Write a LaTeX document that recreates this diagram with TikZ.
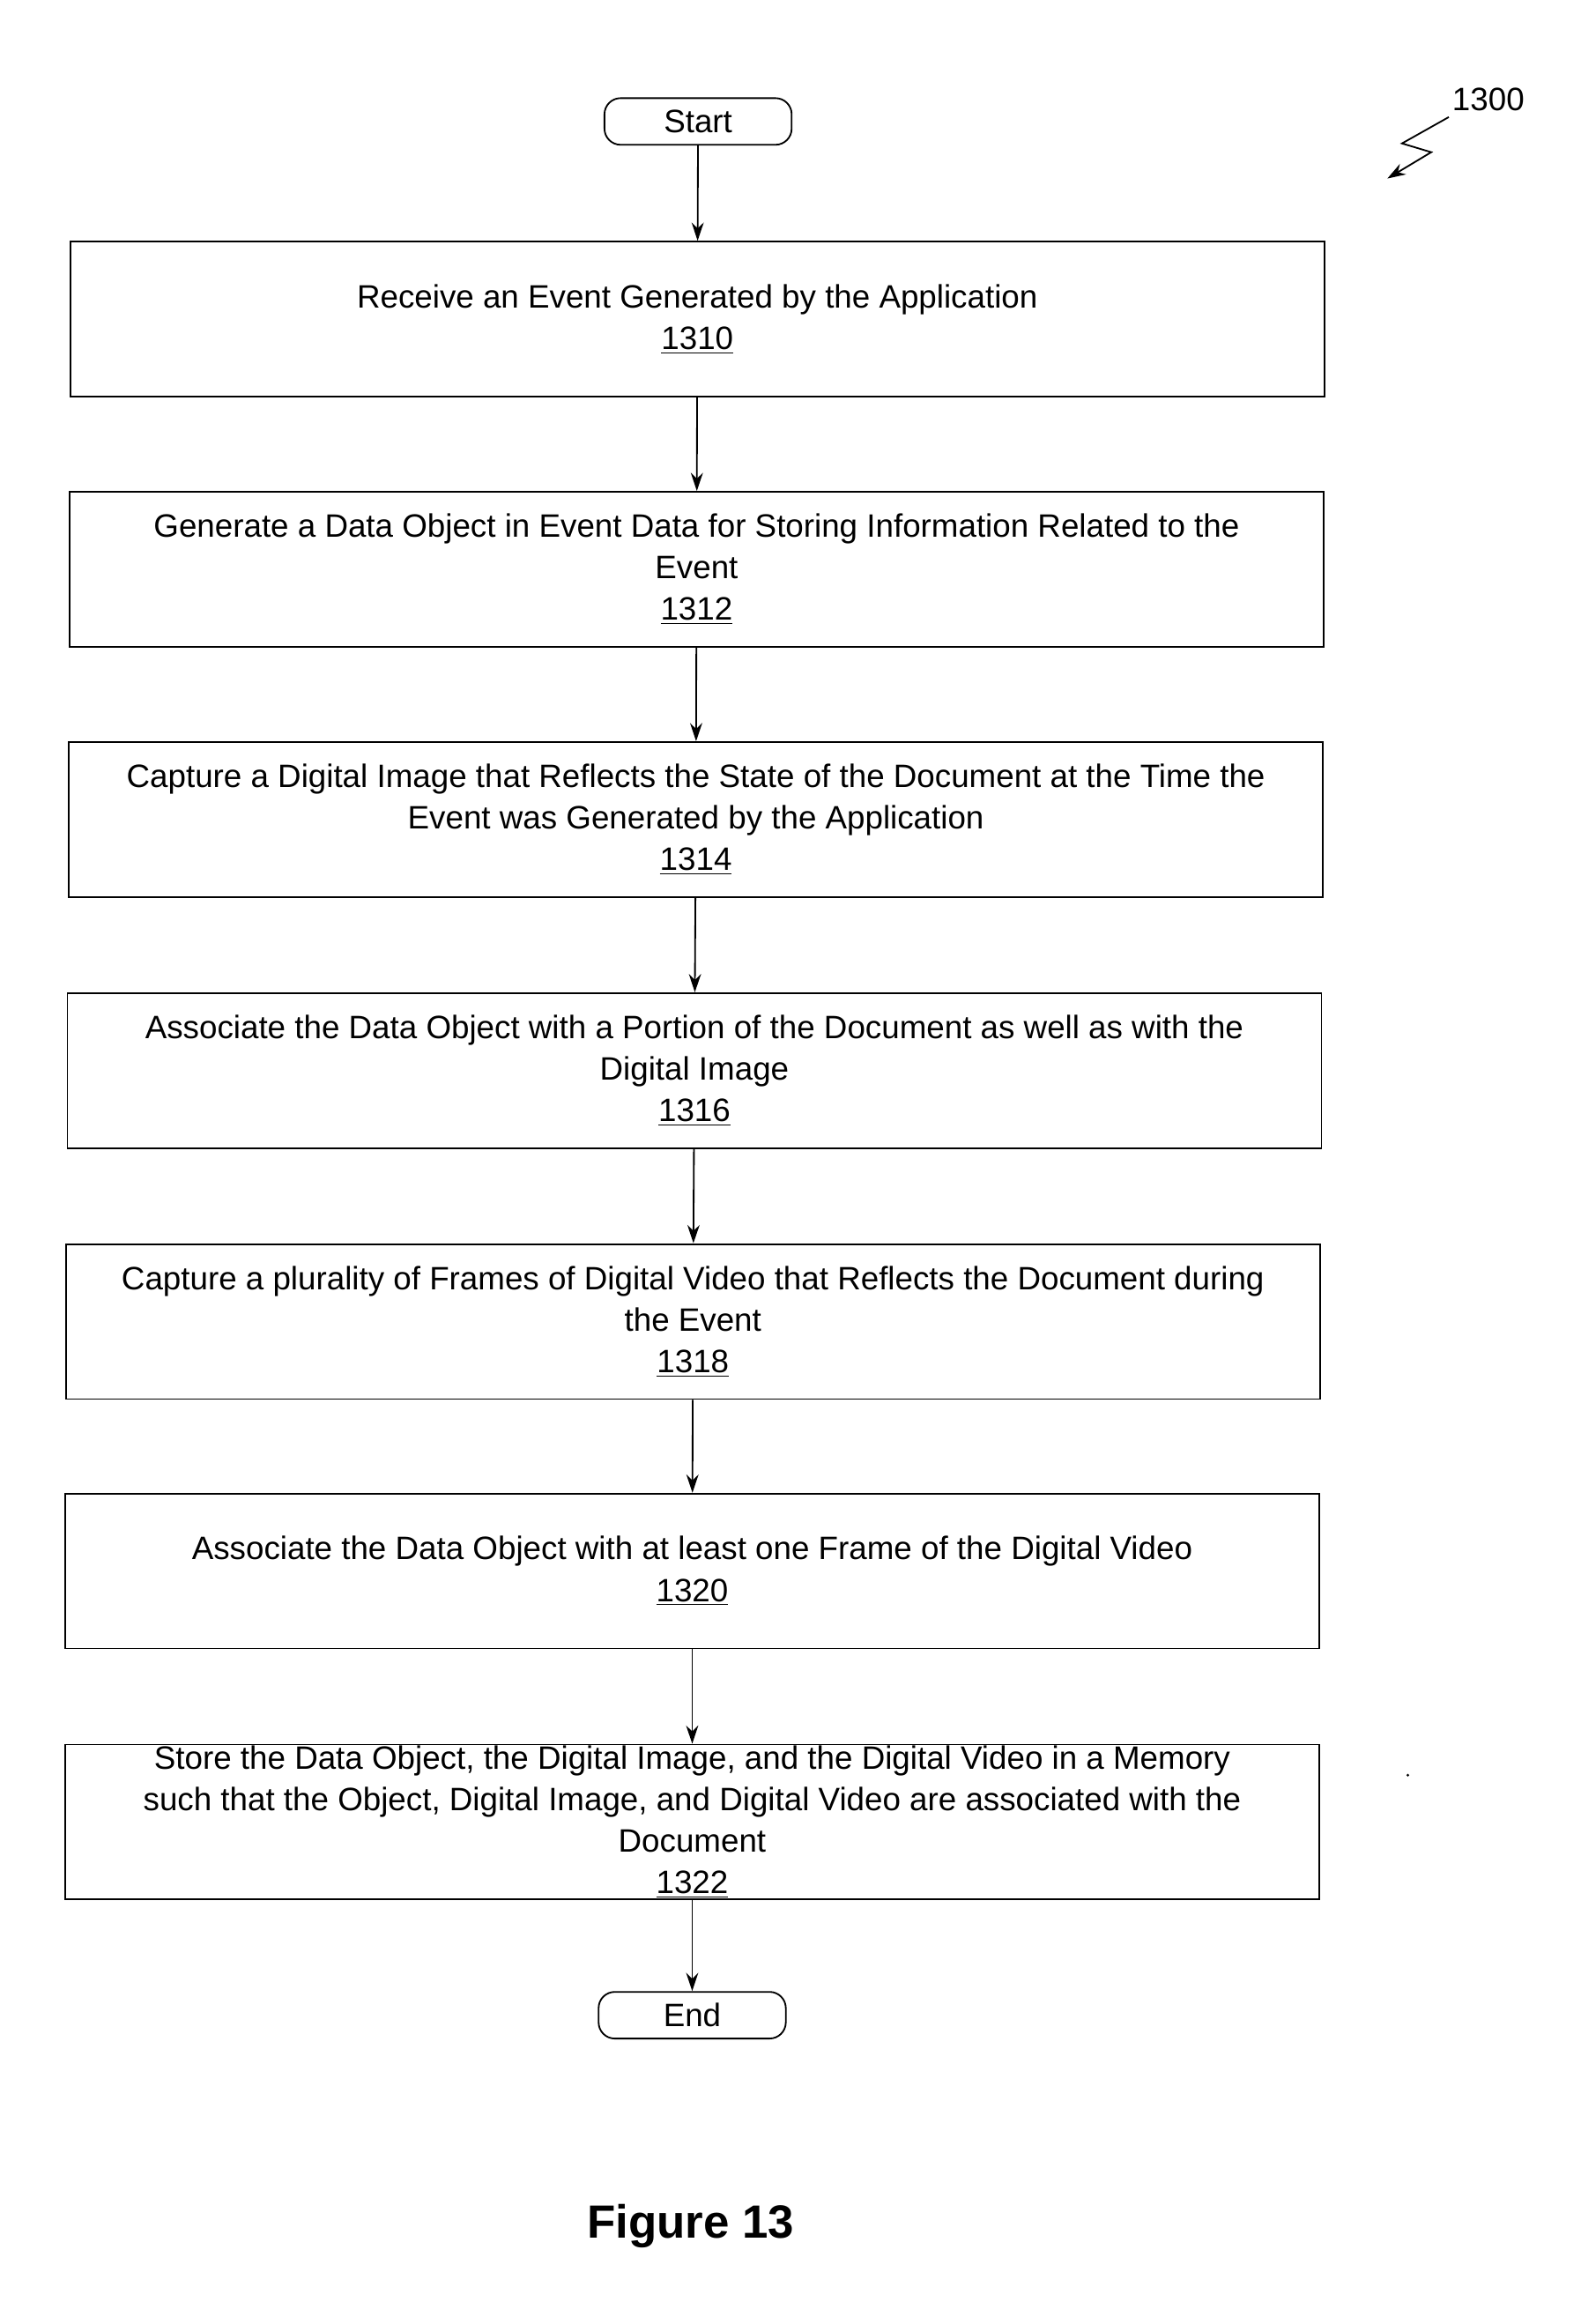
\documentclass[tikz,border=0pt]{standalone}
\usepackage{fontspec}
\setmainfont{Liberation Sans}
\usetikzlibrary{arrows.meta}
\begin{document}
\begin{tikzpicture}[x=0.0254cm,y=-0.0254cm,
  stepbox/.style={draw,line width=0.8pt,minimum width=857\pgflinewidth*0+21.77cm,minimum height=2.69cm,align=center,font=\fontsize{16}{20.5}\selectfont,inner sep=0pt},
  term/.style={draw,line width=0.8pt,rounded corners=8pt,minimum width=3.25cm,minimum height=0.81cm,font=\fontsize{16}{20}\selectfont,inner sep=0pt},
  arr/.style={-{Stealth[length=9pt,width=6pt]},line width=0.8pt}]
\useasboundingbox (0,0) rectangle (1080,1588);
\node[term] (start) at (477,83) {Start};
\node[stepbox] (b1) at (476.5,218) {Receive an Event Generated by the Application\\\underline{1310}};
\node[stepbox] (b2) at (476,389) {Generate a Data Object in Event Data for Storing Information Related to the\\Event\\\underline{1312}};
\node[stepbox] (b3) at (475.5,560) {Capture a Digital Image that Reflects the State of the Document at the Time the\\Event was Generated by the Application\\\underline{1314}};
\node[stepbox] (b4) at (474.5,731.5) {Associate the Data Object with a Portion of the Document as well as with the\\Digital Image\\\underline{1316}};
\node[stepbox] (b5) at (473.5,903) {Capture a plurality of Frames of Digital Video that Reflects the Document during\\the Event\\\underline{1318}};
\node[stepbox] (b6) at (473,1073.5) {Associate the Data Object with at least one Frame of the Digital Video\\\underline{1320}};
\node[stepbox] (b7) at (473,1245) {Store the Data Object, the Digital Image, and the Digital Video in a Memory\\such that the Object, Digital Image, and Digital Video are associated with the\\Document\\\underline{1322}};
\node[term] (end) at (473,1377) {End};
\draw[arr] (start) -- (b1);
\draw[arr] (b1) -- (b2);
\draw[arr] (b2) -- (b3);
\draw[arr] (b3) -- (b4);
\draw[arr] (b4) -- (b5);
\draw[arr] (b5) -- (b6);
\draw[arr] (b6) -- (b7);
\draw[arr] (b7) -- (end);
\node[font=\fontsize{16}{20}\selectfont] (lbl) at (1017,68) {1300};
\coordinate (q1) at (990,80);
\coordinate (q2) at (958,98);
\coordinate (q3) at (978,104);
\coordinate (q4) at (948,122);
\draw[arr] (q1) -- (q2) -- (q3) -- (q4);
\fill (962,1213) circle (1);
\node[font=\bfseries\fontsize{23}{28}\selectfont] (fig) at (472,1521) {Figure 13};
\end{tikzpicture}
\end{document}
